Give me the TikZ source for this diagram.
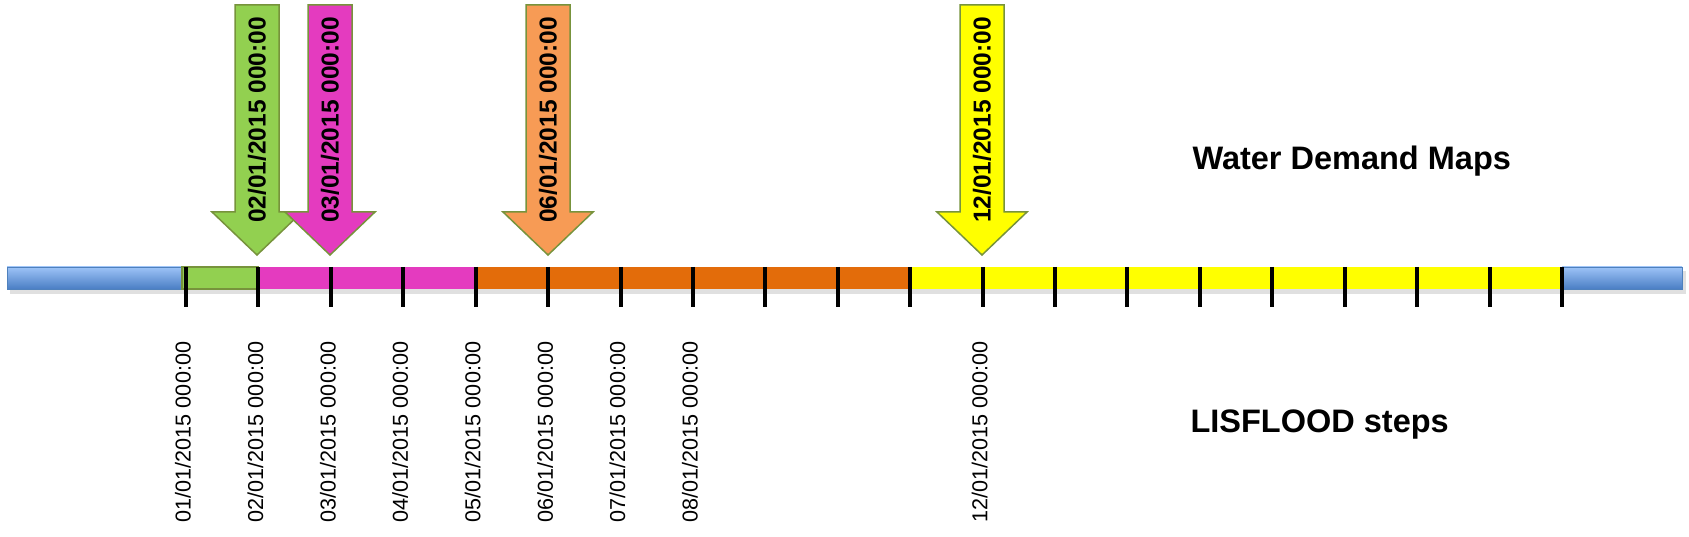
\documentclass[tikz,border=0pt]{standalone}
\usepackage{fontspec}
\setmainfont{Liberation Sans}
\usepackage{tikz}

\definecolor{blueTop}{HTML}{9DC3F7}
\definecolor{blueBot}{HTML}{4A7EC4}
\definecolor{blueEdge}{HTML}{4F81BD}
\definecolor{wdGreen}{HTML}{92D050}
\definecolor{wdPink}{HTML}{E43BBF}
\definecolor{wdOrange}{HTML}{E36C0A}
\definecolor{wdLightOrange}{HTML}{F79B55}
\definecolor{wdYellow}{HTML}{FFFF00}
\definecolor{oliveEdge}{HTML}{77933C}

\tikzset{
  steptick/.style={line width=4pt, black},
  wdlabel/.style={rotate=90, font=\fontsize{24.5}{29}\selectfont\bfseries},
  steplabel/.style={rotate=90, font=\fontsize{21.6}{26}\selectfont},
  bigtitle/.style={anchor=base west, font=\fontsize{32.5}{38}\selectfont\bfseries},
}

% arrow of a water demand map: x, fill, text, name
\newcommand{\demandarrow}[4]{%
  \draw[draw=oliveEdge, fill=#2, line width=1.5pt, line join=miter]
    (#1-22,5) -- (#1+22,5) -- (#1+22,212) -- (#1+45,212) -- (#1,255)
    -- (#1-45,212) -- (#1-22,212) -- cycle;
  \node[wdlabel] (#4) at (#1,120) {#3};
}

\begin{document}
\begin{tikzpicture}[x={(1pt,0)}, y={(0,-1pt)}]
    \useasboundingbox (0,0) rectangle (1689,537);
    % time bar
    \fill[black!12] (10,271) rectangle (1686,294);
    \shade[top color=blueTop, bottom color=blueBot, draw=blueEdge] (7,267) rectangle (182,289);
    \shade[top color=blueTop, bottom color=blueBot, draw=blueEdge] (1562,267) rectangle (1682,289);
    \fill[wdPink] (258,267) rectangle (476,289);
    \fill[wdOrange] (476,267) rectangle (910,289);
    \fill[wdYellow] (910,267) rectangle (1562,289);
    \draw[draw=oliveEdge, fill=wdGreen, line width=1.2pt] (182,267) rectangle (258,289);
    \foreach \i in {0,...,19}
      \draw[steptick] (186+72.42*\i,267) -- (186+72.42*\i,307);
    % water demand maps
    \demandarrow{257}{wdGreen}{02/01/2015 000:00}{wd02}
    \demandarrow{330}{wdPink}{03/01/2015 000:00}{wd03}
    \demandarrow{548}{wdLightOrange}{06/01/2015 000:00}{wd06}
    \demandarrow{982}{wdYellow}{12/01/2015 000:00}{wd12}
    % lisflood steps
    \foreach \d/\i in {01/0,02/1,03/2,04/3,05/4,06/5,07/6,08/7,12/11}
      \node[steplabel] (step\d) at (183+72.42*\i,432) {\d/01/2015 000:00};
    \node[bigtitle] (wdmaps) at (1189,170) {Water Demand Maps};
    \node[bigtitle] (lfsteps) at (1187,432) {LISFLOOD steps};
\end{tikzpicture}
\end{document}
